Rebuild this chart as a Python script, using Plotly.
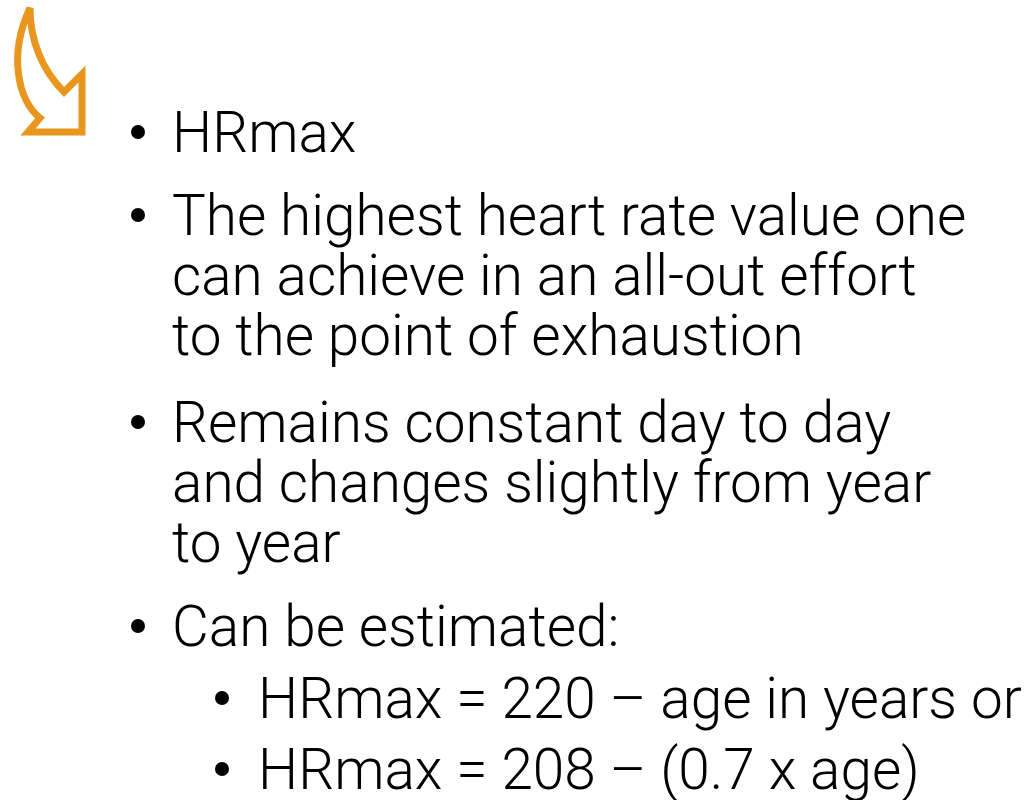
import plotly.graph_objects as go

# Slide content: (indent level, text)
bullet_levels = [0, 0, 0, 0, 0, 0, 0, 0, 1, 1]
bullet_texts = [
    "HRmax",
    "The highest heart rate value one",
    "can achieve in an all-out effort",
    "to the point of exhaustion",
    "Remains constant day to day",
    "and changes slightly from year",
    "to year",
    "Can be estimated:",
    "HRmax = 220 \u2013 age in years or",
    "HRmax = 208 \u2013 (0.7 x age)",
]
# whether the line starts a new bullet (vs. wrapped continuation)
bullet_starts = [True, True, False, False, True, False, False, True, True, True]

W, H = 1032, 800
FONT = "Roboto"
FS = 56.7
WEIGHT = 300
CAP = 40

baselines = [152, 235, 295, 355, 442, 502, 562, 646, 718, 789]
text_x = {0: 170, 1: 256}
dot_x = {0: 138, 1: 222}

fig = go.Figure()
annotations = []
for lvl, txt, start, base in zip(bullet_levels, bullet_texts, bullet_starts, baselines):
    yc = base - CAP / 2
    annotations.append(dict(
        x=text_x[lvl], y=yc, xref="x", yref="y", text=txt, showarrow=False,
        xanchor="left", yanchor="middle",
        font=dict(family=FONT, size=FS, color="#000000", weight=WEIGHT),
    ))
    if start:
        fig.add_shape(type="circle", xref="x", yref="y",
                      x0=dot_x[lvl] - 7, x1=dot_x[lvl] + 7,
                      y0=yc - 7, y1=yc + 7,
                      fillcolor="#000000", line=dict(width=0))

# decorative curved arrow icon
fig.add_shape(
    type="path",
    path="M 30 8 C 30 40 42 70 64 92 L 82 74 L 82 132 L 28 132 L 40 118 C 18 100 8 55 30 8 Z",
    xref="x", yref="y",
    line=dict(color="#E8961E", width=7),
    fillcolor="rgba(0,0,0,0)",
)

fig.update_layout(
    width=W, height=H,
    margin=dict(l=0, r=0, t=0, b=0),
    paper_bgcolor="#FFFFFF", plot_bgcolor="#FFFFFF",
    xaxis=dict(range=[0, W], visible=False, fixedrange=True),
    yaxis=dict(range=[H, 0], visible=False, fixedrange=True),
    annotations=annotations,
    showlegend=False,
)
fig.write_html("out.html", config={"displayModeBar": False},
               post_script="document.body.style.margin='0';document.body.style.overflow='hidden';")
